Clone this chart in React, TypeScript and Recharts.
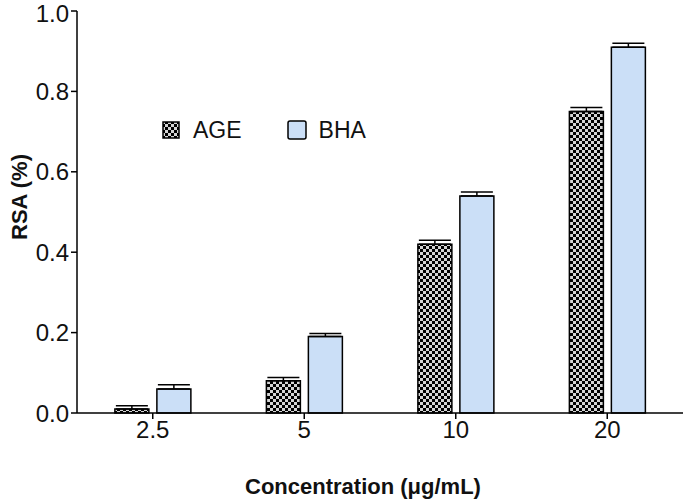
import React from "react";
import { BarChart, Bar, XAxis, YAxis, ErrorBar, Label } from "recharts";

// concentrations (ug/mL)
const categories = ["2.5", "5", "10", "20"];
const ageValues = [0.01, 0.08, 0.42, 0.75];
const ageErrors = [0.008, 0.008, 0.01, 0.01];
const bhaValues = [0.06, 0.19, 0.54, 0.91];
const bhaErrors = [0.01, 0.008, 0.01, 0.01];
const yTicks = [0, 0.2, 0.4, 0.6, 0.8, 1.0];

const data = categories.map((c, i) => ({
  conc: c,
  AGE: ageValues[i],
  ageErr: [0, ageErrors[i]],
  BHA: bhaValues[i],
  bhaErr: [0, bhaErrors[i]],
}));

const FONT = "Liberation Sans, Arial, sans-serif";
const BLUE = "#cbdff7";

// legend sits inside the plot, over the empty left part
function ChartLegend() {
  return (
    <div
      style={{
        position: "absolute",
        left: 162,
        top: 117,
        display: "flex",
        alignItems: "center",
        fontFamily: FONT,
        fontSize: 23,
        color: "#111",
        lineHeight: "26px",
      }}
    >
      <svg width={18} height={18} style={{ marginRight: 13 }}>
        <rect x={1} y={1} width={16} height={16} fill="url(#checker)" stroke="#000" strokeWidth={1.5} />
      </svg>
      <span style={{ marginRight: 45 }}>AGE</span>
      <svg width={20} height={20} style={{ marginRight: 12 }}>
        <rect x={1} y={1} width={18} height={18} rx={2} fill={BLUE} stroke="#000" strokeWidth={1.5} />
      </svg>
      <span>BHA</span>
    </div>
  );
}

export default function App() {
  return (
    <div style={{ position: "absolute", left: 0, top: 0, width: 685, height: 502 }}>
      <BarChart
        width={685}
        height={502}
        data={data}
        margin={{ top: 11, right: 2, bottom: 0, left: 0 }}
        barCategoryGap="25%"
        barGap={8}
      >
        <defs>
          <pattern id="checker" width={6} height={6} patternUnits="userSpaceOnUse">
            <rect width={6} height={6} fill="#000" />
            <rect x={0} y={0} width={3} height={3} fill="#d4d4d4" />
            <rect x={3} y={3} width={3} height={3} fill="#d4d4d4" />
          </pattern>
        </defs>
        <XAxis
          dataKey="conc"
          height={89}
          axisLine={{ stroke: "#000", strokeWidth: 1.5 }}
          tickLine={{ stroke: "#000", strokeWidth: 1.5 }}
          tickSize={6}
          tick={{ fill: "#111", fontSize: 24, fontFamily: FONT }}
        >
          <Label
            content={() => (
              <text x={363} y={494} textAnchor="middle" fontFamily={FONT} fontSize={22} fontWeight="bold" fill="#111">
                Concentration (μg/mL)
              </text>
            )}
          />
        </XAxis>
        <YAxis
          width={77}
          domain={[0, 1]}
          ticks={yTicks}
          tickFormatter={(v: number) => v.toFixed(1)}
          axisLine={{ stroke: "#000", strokeWidth: 1.5 }}
          tickLine={{ stroke: "#000", strokeWidth: 1.5 }}
          tickSize={6}
          tick={{ fill: "#111", fontSize: 24, fontFamily: FONT }}
        >
          <Label
            content={() => (
              <text
                x={19}
                y={197}
                transform="rotate(-90 19 197)"
                textAnchor="middle"
                dominantBaseline="central"
                fontFamily={FONT}
                fontSize={22}
                fontWeight="bold"
                fill="#111"
              >
                RSA (%)
              </text>
            )}
          />
        </YAxis>
        <Bar dataKey="AGE" fill="url(#checker)" stroke="#000" strokeWidth={1.5} isAnimationActive={false}>
          <ErrorBar dataKey="ageErr" width={16} stroke="#000" strokeWidth={1.5} direction="y" />
        </Bar>
        <Bar dataKey="BHA" fill={BLUE} stroke="#000" strokeWidth={1.5} isAnimationActive={false}>
          <ErrorBar dataKey="bhaErr" width={16} stroke="#000" strokeWidth={1.5} direction="y" />
        </Bar>
      </BarChart>
      <ChartLegend />
    </div>
  );
}
